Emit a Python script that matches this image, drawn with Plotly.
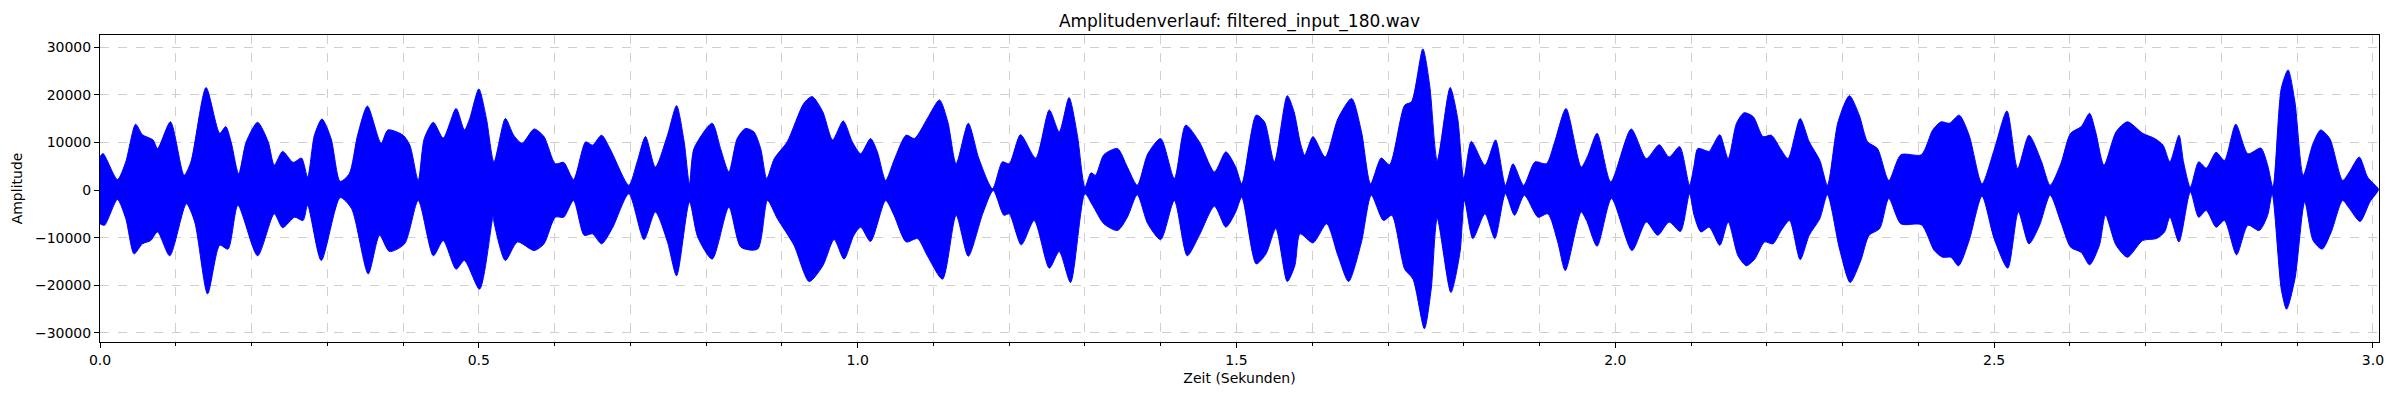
import plotly.graph_objects as go

# envelope of the waveform (seconds, amplitude)
t_upper = [0.0, 0.004, 0.023, 0.034, 0.047, 0.056, 0.070, 0.076, 0.093, 0.111,
           0.120, 0.140, 0.158, 0.166, 0.173, 0.183, 0.193, 0.208, 0.222, 0.230,
           0.241, 0.255, 0.266, 0.274, 0.283, 0.293, 0.305, 0.317, 0.329, 0.340,
           0.353, 0.371, 0.380, 0.400, 0.409, 0.420, 0.428, 0.440, 0.453, 0.470,
           0.481, 0.488, 0.500, 0.510, 0.520, 0.535, 0.546, 0.557, 0.573, 0.586,
           0.601, 0.612, 0.625, 0.641, 0.650, 0.662, 0.674, 0.698, 0.709, 0.720,
           0.733, 0.749, 0.761, 0.771, 0.778, 0.784, 0.808, 0.819, 0.830, 0.841,
           0.852, 0.863, 0.872, 0.880, 0.890, 0.907, 0.929, 0.940, 0.954, 0.967,
           0.981, 0.993, 1.004, 1.017, 1.026, 1.037, 1.048, 1.064, 1.075, 1.092,
           1.108, 1.119, 1.130, 1.146, 1.160, 1.178, 1.191, 1.200, 1.215, 1.235,
           1.253, 1.266, 1.279, 1.290, 1.300, 1.308, 1.314, 1.325, 1.343, 1.356,
           1.369, 1.383, 1.400, 1.418, 1.433, 1.451, 1.471, 1.486, 1.499, 1.507,
           1.526, 1.537, 1.550, 1.567, 1.576, 1.584, 1.590, 1.601, 1.617, 1.634,
           1.652, 1.665, 1.677, 1.691, 1.702, 1.722, 1.731, 1.746, 1.755, 1.765,
           1.782, 1.792, 1.800, 1.810, 1.828, 1.842, 1.855, 1.865, 1.879, 1.894,
           1.909, 1.920, 1.935, 1.955, 1.964, 1.976, 1.994, 2.021, 2.041, 2.058,
           2.071, 2.085, 2.098, 2.104, 2.109, 2.124, 2.129, 2.138, 2.149, 2.160,
           2.170, 2.182, 2.195, 2.206, 2.219, 2.228, 2.244, 2.256, 2.270, 2.280,
           2.294, 2.309, 2.322, 2.333, 2.346, 2.361, 2.377, 2.404, 2.419, 2.430,
           2.441, 2.454, 2.467, 2.484, 2.500, 2.517, 2.531, 2.546, 2.562, 2.574,
           2.588, 2.601, 2.615, 2.626, 2.634, 2.645, 2.661, 2.676, 2.696, 2.712,
           2.723, 2.732, 2.744, 2.750, 2.759, 2.770, 2.780, 2.793, 2.804, 2.819,
           2.835, 2.852, 2.861, 2.868, 2.879, 2.888, 2.897, 2.908, 2.921, 2.931,
           2.943, 2.960, 2.969, 2.982, 2.993, 3.007]
amp_upper = [7000, 7650, 2200, 5900, 13800, 11600, 10500, 8700, 14300, 3100,
             5900, 21500, 11900, 13300, 10100, 3400, 10100, 14200, 10100, 5200,
             8100, 5800, 6700, 2700, 11500, 14900, 10800, 1800, 3400, 11500,
             17600, 9800, 12600, 11500, 9400, 2000, 10800, 14200, 10900, 17100,
             12600, 15000, 21200, 15000, 5900, 15000, 11500, 9800, 12800, 11200,
             5500, 5800, 2200, 10100, 9400, 11500, 8400, 1000, 5900, 11200,
             4800, 11500, 17700, 10100, 1300, 8700, 14000, 8700, 3800, 10800,
             12900, 12200, 8700, 2400, 6600, 10100, 18200, 19600, 16400, 10500,
             14500, 10100, 7600, 10800, 8000, 2000, 6200, 11500, 10800, 15000,
             18900, 14300, 5500, 14000, 6600, 300, 5900, 5500, 11600, 6700,
             16800, 12200, 19400, 11500, 600, 3600, 3100, 7400, 8700, 4800,
             1000, 7600, 10800, 2400, 13600, 10100, 3800, 8000, 4800, 1300,
             15700, 14300, 5900, 19800, 16400, 10100, 7300, 11200, 6900, 15000,
             19200, 12200, 1300, 6700, 5300, 17800, 18500, 29600, 22000, 6200,
             21500, 15000, 2400, 10200, 5200, 10500, 1000, 5500, 1000, 5900,
             5500, 10100, 17100, 4800, 7300, 11900, 1700, 12800, 6600, 9500,
             6900, 9100, 1000, 5200, 8700, 8100, 9400, 11600, 6600, 14000,
             16200, 15400, 11200, 11500, 8400, 6600, 15000, 10100, 6200, 1000,
             14300, 19800, 15700, 10100, 8700, 2000, 7400, 7400, 12600, 14300,
             14000, 15700, 11500, 1300, 8400, 16600, 4500, 11500, 6200, 1000,
             5500, 11900, 13300, 16100, 12200, 5200, 12200, 14300, 11900, 10800,
             9400, 5900, 11500, 5900, 600, 5900, 4600, 7900, 6200, 13800,
             7600, 8800, 5200, 600, 21300, 25200, 18500, 3100, 9800, 12600,
             10800, 2000, 3800, 6900, 2700, 300]

t_lower = [0.0, 0.006, 0.023, 0.034, 0.045, 0.056, 0.067, 0.076, 0.092, 0.114,
           0.125, 0.142, 0.158, 0.169, 0.182, 0.208, 0.230, 0.241, 0.257, 0.268,
           0.274, 0.292, 0.317, 0.332, 0.354, 0.369, 0.382, 0.402, 0.420, 0.440,
           0.453, 0.470, 0.481, 0.501, 0.519, 0.520, 0.535, 0.551, 0.573, 0.586,
           0.601, 0.612, 0.625, 0.639, 0.650, 0.662, 0.676, 0.698, 0.718, 0.733,
           0.749, 0.761, 0.778, 0.789, 0.808, 0.830, 0.846, 0.868, 0.881, 0.894,
           0.916, 0.936, 0.954, 0.969, 0.982, 0.995, 1.004, 1.017, 1.037, 1.048,
           1.064, 1.079, 1.092, 1.112, 1.130, 1.146, 1.165, 1.179, 1.193, 1.200,
           1.216, 1.233, 1.253, 1.266, 1.281, 1.300, 1.310, 1.325, 1.343, 1.356,
           1.369, 1.383, 1.400, 1.418, 1.435, 1.451, 1.471, 1.486, 1.499, 1.507,
           1.526, 1.539, 1.552, 1.567, 1.577, 1.584, 1.601, 1.619, 1.634, 1.648,
           1.665, 1.678, 1.694, 1.705, 1.722, 1.733, 1.748, 1.757, 1.765, 1.783,
           1.795, 1.801, 1.812, 1.828, 1.841, 1.855, 1.867, 1.880, 1.898, 1.911,
           1.924, 1.934, 1.955, 1.962, 1.976, 1.995, 2.022, 2.041, 2.056, 2.071,
           2.086, 2.098, 2.104, 2.113, 2.124, 2.138, 2.149, 2.162, 2.173, 2.184,
           2.197, 2.208, 2.219, 2.230, 2.244, 2.256, 2.270, 2.280, 2.296, 2.310,
           2.324, 2.335, 2.349, 2.361, 2.377, 2.404, 2.421, 2.432, 2.443, 2.453,
           2.467, 2.484, 2.500, 2.518, 2.532, 2.546, 2.560, 2.574, 2.588, 2.601,
           2.615, 2.626, 2.639, 2.647, 2.661, 2.676, 2.696, 2.714, 2.725, 2.732,
           2.744, 2.759, 2.770, 2.780, 2.793, 2.804, 2.820, 2.835, 2.850, 2.861,
           2.867, 2.879, 2.886, 2.897, 2.910, 2.921, 2.933, 2.945, 2.960, 2.969,
           2.983, 2.996, 3.007]
amp_lower = [-7100, -7400, -2000, -6000, -13400, -11300, -10600, -8800, -13800, -2900,
             -6700, -21800, -11600, -12400, -3200, -13800, -5000, -7900, -5700, -6400,
             -3200, -14800, -1600, -3900, -17600, -9500, -12900, -11300, -2200, -13800,
             -10600, -16600, -14800, -20800, -5300, -6700, -14800, -10900, -12700, -11300,
             -5700, -5700, -2200, -9500, -9200, -11300, -8100, -800, -10400, -4600,
             -10900, -18000, -2500, -9900, -14500, -3600, -12000, -12400, -2200, -6000,
             -11600, -19200, -15900, -10400, -14500, -9500, -7800, -10800, -2200, -5300,
             -10900, -10200, -13800, -18700, -5300, -13900, -5000, -100, -5300, -5000,
             -11500, -6400, -16400, -12900, -19400, -800, -3200, -7100, -8500, -5700,
             -1000, -7100, -10400, -2200, -13800, -9500, -3400, -7800, -4600, -1500,
             -15500, -13400, -8100, -19200, -15900, -9200, -11100, -7100, -13800, -19200,
             -10900, -1100, -6400, -5300, -16600, -18700, -29100, -20800, -6000, -21500,
             -13100, -2200, -10200, -5000, -10200, -800, -5300, -1100, -5700, -5000,
             -10900, -16900, -4600, -6400, -11800, -1800, -12700, -6700, -9500, -6700,
             -8700, -800, -5300, -8800, -7800, -11600, -6700, -13800, -15900, -14500,
             -10900, -11300, -8500, -6400, -14600, -9500, -6000, -1000, -12400, -19400,
             -14800, -9500, -8100, -1800, -7100, -7300, -12700, -14100, -14100, -15900,
             -10600, -1300, -10200, -16400, -4600, -11300, -7400, -1100, -6700, -12000,
             -13100, -15700, -11600, -5300, -11600, -14100, -10600, -10200, -8800, -5700,
             -10900, -400, -5700, -4300, -7800, -6400, -13600, -7400, -8500, -5300,
             -800, -20800, -25000, -18700, -2500, -10600, -12400, -8800, -2200, -3900,
             -6600, -2500, -100]

x_ticks = [0.0, 0.5, 1.0, 1.5, 2.0, 2.5, 3.0]
y_ticks = [-30000, -20000, -10000, 0, 10000, 20000, 30000]

font = 'DejaVu Sans'
grid = '#cfcfcf'

# the page body adds 8px around the figure, so the figure is 8px smaller
W, H = 2392, 392

fig = go.Figure()
fig.add_trace(go.Scatter(
    x=t_upper + t_lower[::-1],
    y=amp_upper + amp_lower[::-1],
    mode='lines',
    fill='toself',
    fillcolor='#0000ff',
    line=dict(color='#0000ff', width=1, shape='spline', smoothing=0.7),
    hoverinfo='skip',
    showlegend=False
))

fig.update_layout(
    template='none',
    width=W,
    height=H,
    margin=dict(l=92, r=21, t=27, b=58),
    paper_bgcolor='white',
    plot_bgcolor='white',
    font=dict(family=font, size=14, color='black'),
    title=dict(
        text='Amplitudenverlauf: filtered_input_180.wav',
        x=0.5, xref='paper', xanchor='center',
        y=1 - 13.5 / H, yref='container', yanchor='middle',
        font=dict(family=font, size=17, color='black')
    ),
    xaxis=dict(
        automargin=False,
        range=[0, 3.008],
        tickvals=x_ticks,
        tickformat='.1f',
        ticks='outside', ticklen=5, tickcolor='black', tickwidth=1,
        showline=True, mirror=True, linecolor='black', linewidth=1,
        showgrid=True, gridcolor=grid, griddash='dash', gridwidth=1,
        zeroline=False,
        minor=dict(dtick=0.1, ticks='outside', ticklen=3, tickcolor='black',
                   showgrid=True, gridcolor=grid, griddash='dash', gridwidth=1),
        title=dict(text='Zeit (Sekunden)', standoff=6,
                   font=dict(family=font, size=14))
    ),
    yaxis=dict(
        automargin=False,
        range=[-31890, 32520],
        tickvals=y_ticks,
        tickformat='d',
        ticks='outside', ticklen=5, tickcolor='black', tickwidth=1,
        showline=True, mirror=True, linecolor='black', linewidth=1,
        showgrid=True, gridcolor=grid, griddash='dash', gridwidth=1,
        zeroline=False,
        title=dict(text='Amplitude', standoff=9,
                   font=dict(family=font, size=14))
    )
)

fig.write_html("out.html")
